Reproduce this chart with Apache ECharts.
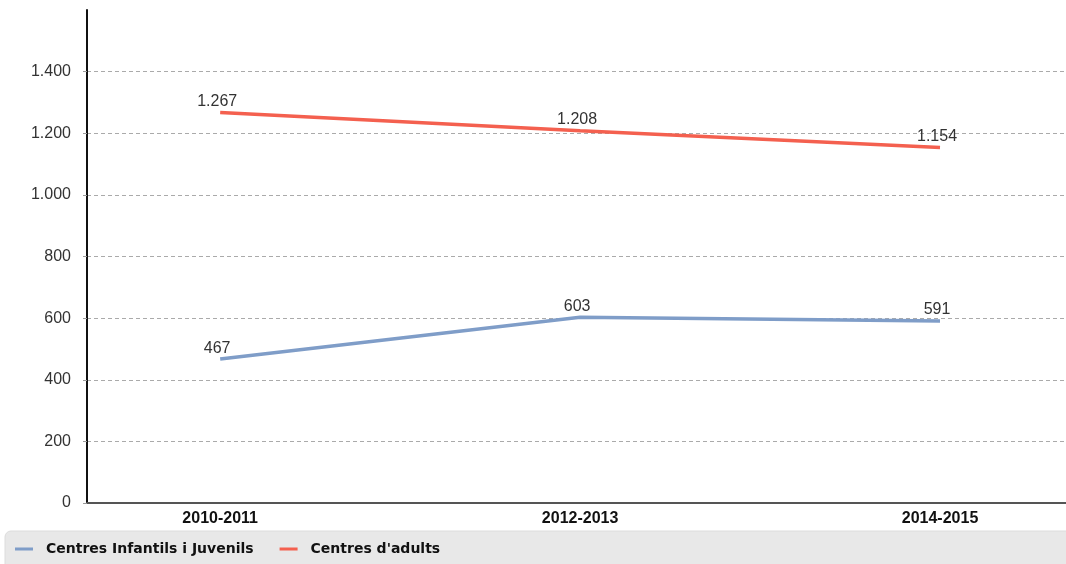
<!DOCTYPE html>
<html>
<head>
<meta charset="utf-8">
<script src="https://cdn.jsdelivr.net/npm/echarts@6/dist/echarts.min.js"></script>
<style>
  html, body { margin: 0; padding: 0; background: #fff; }
  #chart { width: 1066px; height: 564px; }
</style>
</head>
<body>
<div id="chart"></div>
<script>
// School years on the horizontal axis
const categories = ['2010-2011', '2012-2013', '2014-2015'];
// Number of centres per type
const infantilsJuvenils = [467, 603, 591];
const adults = [1267, 1208, 1154];
const seriesNames = ['Centres Infantils i Juvenils', "Centres d'adults"];
const yTicks = [0, 200, 400, 600, 800, 1000, 1200, 1400];

// Catalan-style thousands separator
function fmt(v) {
  return String(Math.round(v)).replace(/\B(?=(\d{3})+(?!\d))/g, '.');
}
const toPairs = arr => arr.map((v, i) => [i, v]);

const chart = echarts.init(document.getElementById('chart'));
const labelStyle = () => ({
  show: true,
  position: 'top',
  distance: 3,
  offset: [-3, 0],
  fontFamily: 'Liberation Sans, Arial, sans-serif',
  fontSize: 16,
  color: '#333',
  formatter: p => fmt(p.value[1])
});

chart.setOption({
  animation: false,
  backgroundColor: '#fff',
  grid: { left: 87, right: 0, top: 10, bottom: 61 },
  graphic: [{
    type: 'rect',
    z: -1,
    shape: { x: 5, y: 531, width: 1070, height: 40, r: 6 },
    style: { fill: '#e8e8e8', stroke: '#dcdcdc', lineWidth: 1 }
  }],
  legend: {
    left: 10,
    top: 537,
    icon: 'rect',
    itemWidth: 18,
    itemHeight: 3,
    itemGap: 26,
    textStyle: {
      fontFamily: 'DejaVu Sans, Verdana, sans-serif',
      fontWeight: 'bold',
      fontSize: 14,
      color: '#111',
      padding: [0, 0, 0, 8]
    },
    data: seriesNames
  },
  xAxis: {
    type: 'value',
    min: -0.37,
    max: 2.35,
    splitLine: { show: false },
    axisLine: { show: true, onZero: false, lineStyle: { color: '#555', width: 2 } },
    axisTick: { show: false },
    axisLabel: {
      customValues: categories.map((c, i) => i),
      formatter: v => categories[Math.round(v)] || '',
      margin: 8,
      fontFamily: 'Liberation Sans, Arial, sans-serif',
      fontWeight: 'bold',
      fontSize: 16,
      color: '#111'
    }
  },
  yAxis: {
    type: 'value',
    min: 0,
    max: 1600,
    interval: 200,
    axisLine: { show: true, onZero: false, lineStyle: { color: '#111', width: 2 } },
    axisTick: { show: true, length: 4, lineStyle: { color: '#999' } },
    axisLabel: {
      showMaxLabel: false,
      formatter: v => (yTicks.indexOf(v) >= 0 ? fmt(v) : ''),
      margin: 16,
      fontFamily: 'Liberation Sans, Arial, sans-serif',
      fontSize: 16,
      color: '#333'
    },
    splitLine: {
      show: true,
      showMaxLine: false,
      lineStyle: { color: '#aaa', type: [4, 3], width: 1 }
    }
  },
  series: [
    {
      name: seriesNames[0],
      type: 'line',
      data: toPairs(infantilsJuvenils),
      showSymbol: true,
      symbol: 'circle',
      symbolSize: 0,
      lineStyle: { color: '#7f9dc8', width: 3.5 },
      itemStyle: { color: '#7f9dc8' },
      label: labelStyle()
    },
    {
      name: seriesNames[1],
      type: 'line',
      data: toPairs(adults),
      showSymbol: true,
      symbol: 'circle',
      symbolSize: 0,
      lineStyle: { color: '#f4604f', width: 3.5 },
      itemStyle: { color: '#f4604f' },
      label: labelStyle()
    }
  ]
});
</script>
</body>
</html>
